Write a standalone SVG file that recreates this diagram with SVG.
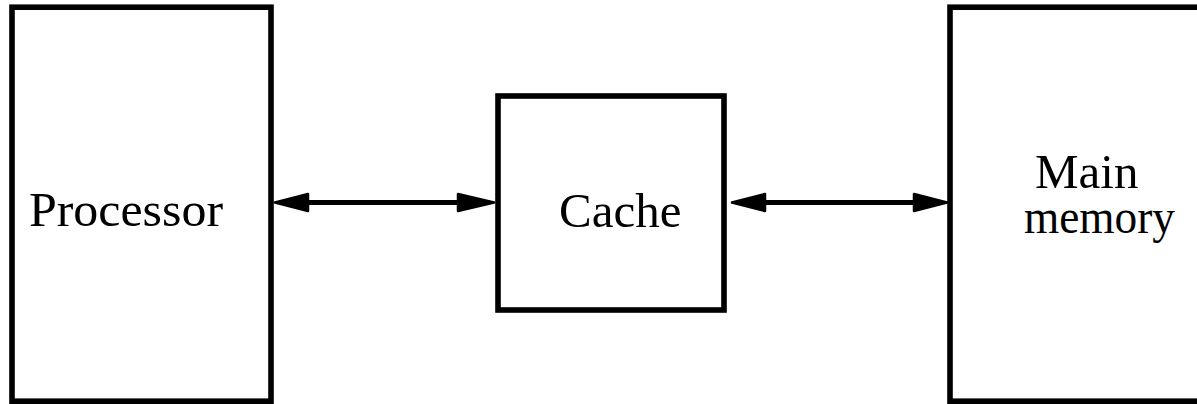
<svg xmlns="http://www.w3.org/2000/svg" width="1197" height="404" viewBox="0 0 1197 404">
<style>
.box{fill:#fff;stroke:#000;stroke-width:5.6}
.lbl{font-family:"Liberation Serif","Times New Roman",serif;font-size:49px;fill:#000}
.conn{stroke:#000;stroke-width:4.8;fill:none}
.head{fill:#000;stroke:#000;stroke-width:2.5;stroke-linejoin:round}
</style>
<rect width="1197" height="404" fill="#fff"/>
<g id="processor">
<rect class="box" x="12" y="7.2" width="259" height="394"/>
<text class="lbl" x="29" y="226" textLength="194" lengthAdjust="spacingAndGlyphs">Processor</text>
</g>
<g id="cache">
<rect class="box" x="498" y="96" width="226" height="214"/>
<text class="lbl" x="559" y="226.5">Cache</text>
</g>
<g id="main-memory">
<rect class="box" x="950" y="7.2" width="260" height="394"/>
<text class="lbl" x="1035" y="188">Main</text>
<text class="lbl" x="1024" y="233" textLength="151" lengthAdjust="spacingAndGlyphs">memory</text>
</g>
<g id="connectors">
<line class="conn" x1="300" y1="202.5" x2="465" y2="202.5"/>
<polygon class="head" points="275,202.5 308,194 308,211"/>
<polygon class="head" points="494,202.5 458,194 458,211"/>
<line class="conn" x1="758" y1="202.5" x2="920" y2="202.5"/>
<polygon class="head" points="732,202.5 765,194 765,211"/>
<polygon class="head" points="947,202.5 914,194 914,211"/>
</g>
</svg>
